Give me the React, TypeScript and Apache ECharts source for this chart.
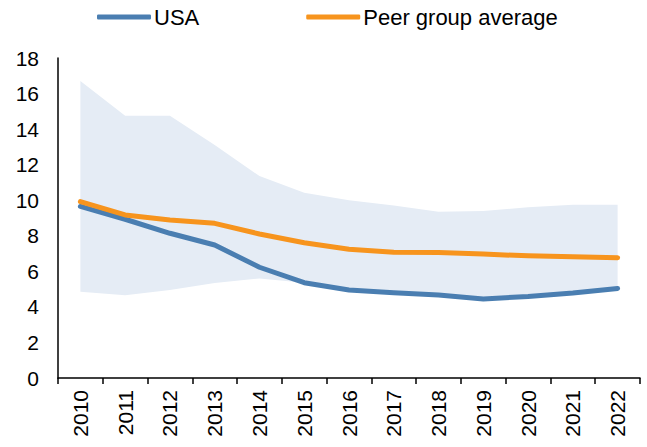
import React, { useEffect, useRef } from "react";
import * as echarts from "echarts";

const years = ["2010","2011","2012","2013","2014","2015","2016","2017","2018","2019","2020","2021","2022"];
const usa = [9.65, 8.93, 8.14, 7.48, 6.23, 5.36, 4.95, 4.8, 4.67, 4.45, 4.58, 4.78, 5.04];
const peerAvg = [9.92, 9.17, 8.89, 8.7, 8.1, 7.61, 7.24, 7.08, 7.06, 6.97, 6.87, 6.82, 6.77];
const bandLow = [4.85, 4.65, 4.95, 5.35, 5.6, 5.36, 4.95, 4.8, 4.67, 4.45, 4.58, 4.78, 5.04];
const bandHigh = [16.7, 14.75, 14.75, 13.1, 11.36, 10.42, 10.0, 9.7, 9.35, 9.39, 9.6, 9.75, 9.75];
const yTicks = { min: 0, max: 18, interval: 2 };

export default function App() {
  const ref = useRef<HTMLDivElement>(null);
  useEffect(() => {
    if (!ref.current) return;
    const chart = echarts.init(ref.current, null, { renderer: "svg" });
    const font = "'Liberation Sans', Arial, sans-serif";
    chart.setOption({
      animation: false,
      textStyle: { fontFamily: font },
      legend: {
        data: ["USA", "Peer group average"],
        left: 92,
        top: 1,
        icon: "roundRect",
        itemWidth: 54,
        itemHeight: 5,
        itemGap: 107,
        textStyle: { fontSize: 22, color: "#000", fontFamily: font, padding: [0, 0, 0, -2] },
      },
      grid: { left: 58, right: 7, top: 58, bottom: 69, containLabel: false },
      xAxis: {
        type: "category",
        data: years,
        boundaryGap: true,
        axisLine: { show: true, lineStyle: { color: "#000", width: 1.5 } },
        axisTick: { show: true, length: 6, lineStyle: { color: "#000", width: 1.5 } },
        axisLabel: { rotate: 90, fontSize: 21, color: "#000", margin: 12, fontFamily: font },
      },
      yAxis: {
        type: "value",
        min: yTicks.min,
        max: yTicks.max,
        interval: yTicks.interval,
        axisLine: { show: true, lineStyle: { color: "#000", width: 1.5 } },
        axisTick: { show: false },
        splitLine: { show: false },
        axisLabel: { fontSize: 21, color: "#000", margin: 19, fontFamily: font },
      },
      series: [
        {
          name: "bandLow",
          type: "line",
          stack: "band",
          data: bandLow,
          symbol: "none",
          lineStyle: { opacity: 0 },
          silent: true,
        },
        {
          name: "bandRange",
          type: "line",
          stack: "band",
          data: bandHigh.map((h, i) => +(h - bandLow[i]).toFixed(3)),
          symbol: "none",
          lineStyle: { opacity: 0 },
          areaStyle: { color: "#e5ecf5", opacity: 1 },
          silent: true,
        },
        {
          name: "USA",
          type: "line",
          data: usa,
          symbol: "none",
          itemStyle: { color: "#4a7eb1" },
          lineStyle: { color: "#4a7eb1", width: 5, cap: "round", join: "round" },
          z: 3,
        },
        {
          name: "Peer group average",
          type: "line",
          data: peerAvg,
          symbol: "none",
          itemStyle: { color: "#f7941d" },
          lineStyle: { color: "#f7941d", width: 5, cap: "round", join: "round" },
          z: 4,
        },
      ],
    });
    return () => chart.dispose();
  }, []);
  return <div ref={ref} style={{ width: 647, height: 447, position: "absolute", left: 0, top: 0 }} />;
}
